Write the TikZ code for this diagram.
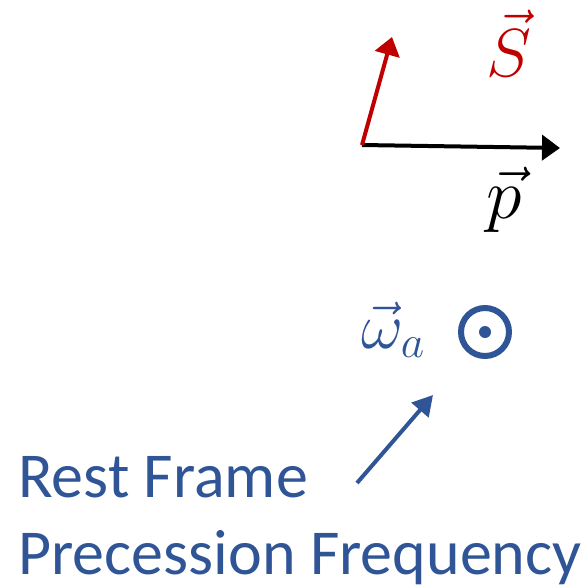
\documentclass[tikz,border=0pt]{standalone}
\usepackage{fix-cm}
\usepackage{amsmath}
\usepackage{fontspec}
\setsansfont{Carlito}
\usetikzlibrary{arrows.meta,positioning}
\definecolor{spinred}{HTML}{C00000}
\definecolor{labelblue}{HTML}{2F5597}
\tikzset{
  vecarrow/.style={line width=4pt,-{Triangle[length=18pt,width=25pt]}},
  veclabel/.style={anchor=base west,inner sep=0pt}
}

\begin{document}
\begin{tikzpicture}[x=1pt,y=-1pt]
  \useasboundingbox (0,0) rectangle (585,584);
  % momentum and spin
  \coordinate (origin) at (362,145);
  \coordinate (ptip) at (560,148);
  \coordinate (stip) at (392,37);
  \draw[vecarrow] (origin) -- (ptip);
  \draw[vecarrow,spinred] (origin) -- (stip);
  \node[veclabel,spinred,font=\fontsize{68}{72}\selectfont] (slabel)
    at (486,76) {$\vec{S}$};
  \node[veclabel,font=\fontsize{72}{78}\selectfont] (plabel)
    at (486,218) {$\vec{p}$};

  % precession axis out of the page
  \node[circle,draw=labelblue,line width=6pt,minimum size=48pt,
        inner sep=0pt] (odot) at (485,332) {};
  \fill[labelblue] (odot.center) circle (6);
  \node[veclabel,labelblue,font=\fontsize{65}{70}\selectfont] (wlabel)
    at (361,348) {$\vec{\omega}_a$};

  % caption with pointer
  \node[font=\sffamily\fontsize{64}{77}\selectfont,text=labelblue,
        align=left,anchor=base west,inner sep=0pt] (freq) at (18,574)
        {Rest Frame\\Precession Frequency};
  \coordinate (ptrstart) at (357,483);
  \coordinate (ptrtip) at (433,395);
  \draw[labelblue,line width=4pt,-{Triangle[length=20pt,width=22pt]}]
    (ptrstart) -- (ptrtip);
\end{tikzpicture}
\end{document}
